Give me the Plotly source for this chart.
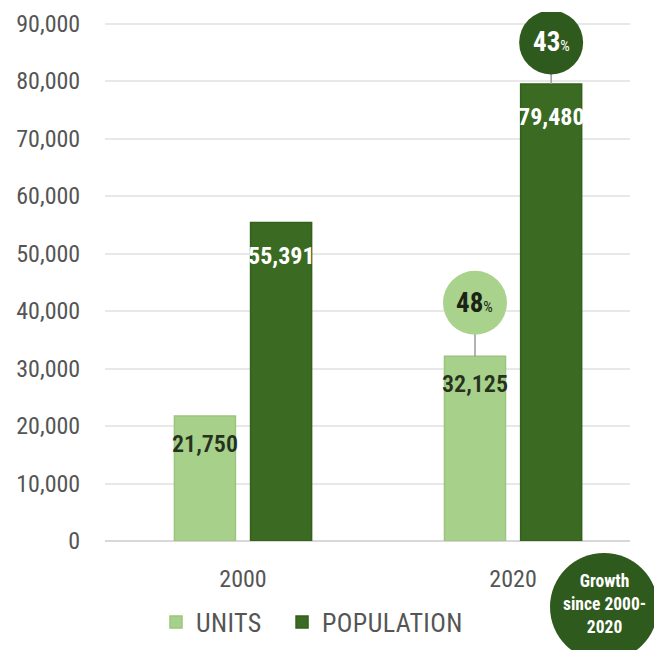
import plotly.graph_objects as go

years = ["2000", "2020"]
units = [21750, 32125]
population = [55391, 79480]
growth_units = "48"
growth_population = "43"
y_ticks = [0, 10000, 20000, 30000, 40000, 50000, 60000, 70000, 80000, 90000]
y_tick_labels = ["0", "10,000", "20,000", "30,000", "40,000", "50,000",
                 "60,000", "70,000", "80,000", "90,000"]

FONT = "Roboto Condensed, DejaVu Sans Condensed, sans-serif"
LIGHT = "#a7d18b"
DARK = "#3b6a22"
CIRCLE_DARK = "#2f5a1d"
GREY = "#555555"

BAR_W = 0.226
GAP = 0.056
off_u = -(BAR_W + GAP / 2)
off_p = GAP / 2
cen_u = off_u + BAR_W / 2
cen_p = off_p + BAR_W / 2

fig = go.Figure()
fig.add_trace(go.Bar(
    x=years, y=units, width=BAR_W, offset=off_u, legend="legend",
    name="<span style='letter-spacing:0.4px'>UNITS</span>",
    marker=dict(color=LIGHT, line=dict(color="#9cc47f", width=1.5)),
))
fig.add_trace(go.Bar(
    x=years, y=population, width=BAR_W, offset=off_p, legend="legend2",
    name="<span style='letter-spacing:0.4px'>POPULATION</span>",
    marker=dict(color=DARK, line=dict(color="#33601c", width=1.5)),
))

fmt = lambda v: f"{v:,}"
for i, v in enumerate(units):
    fig.add_annotation(x=i + cen_u, y=v, text=fmt(v), showarrow=False,
                       xanchor="center", yanchor="middle", yshift=-28,
                       font=dict(family=FONT, size=24, color="#26321e", weight=600))
for i, v in enumerate(population):
    fig.add_annotation(x=i + cen_p, y=v, text=fmt(v), showarrow=False,
                       xanchor="center", yanchor="middle", yshift=-33,
                       font=dict(family=FONT, size=24, color="white", weight="bold"))

# growth circles above the 2020 bars
R = 32
for xc, v, gap, txt, fill, tcol in [
    (1 + cen_u, units[1], 21.5, growth_units, "#a9d38d", "#1b2414"),
    (1 + cen_p, population[1], 9.5, growth_population, CIRCLE_DARK, "white"),
]:
    fig.add_shape(type="line", xref="x", yref="y", xsizemode="pixel", ysizemode="pixel",
                  xanchor=xc, yanchor=v, x0=0, x1=0, y0=0, y1=gap + 2,
                  line=dict(color="#9a9a9a", width=1.5))
    fig.add_shape(type="circle", xref="x", yref="y", xsizemode="pixel", ysizemode="pixel",
                  xanchor=xc, yanchor=v, x0=-R, x1=R, y0=gap, y1=gap + 2 * R,
                  fillcolor=fill, line=dict(width=0))
    fig.add_annotation(x=xc, y=v, yshift=gap + R, showarrow=False,
                       xanchor="center", yanchor="middle",
                       text=f"<b>{txt}</b><span style='font-size:15px'>%</span>",
                       font=dict(family=FONT, size=27, color=tcol))

# "Growth since 2000-2020" badge
BX = (604 - 105) / 525
fig.add_shape(type="circle", xref="paper", yref="paper", xsizemode="pixel", ysizemode="pixel",
              xanchor=BX, yanchor=0, x0=-54, x1=54, y0=-12, y1=-120,
              fillcolor=CIRCLE_DARK, line=dict(width=0))
fig.add_annotation(xref="paper", yref="paper", x=BX, y=0, yshift=-63, showarrow=False,
                   xanchor="center", yanchor="middle",
                   text="<b>Growth<br>since 2000-<br>2020</b>", align="center",
                   font=dict(family=FONT, size=17.5, color="white"))

legend_common = dict(orientation="h", xref="container", yref="container",
                     y=0.0436, xanchor="left", yanchor="middle",
                     font=dict(family=FONT, size=26, color=GREY))

fig.update_layout(
    width=654, height=642,
    margin=dict(l=97, r=32, t=4, b=109, autoexpand=False),
    paper_bgcolor="white", plot_bgcolor="white",
    barmode="overlay",
    showlegend=True,
    legend=dict(x=0.2263, **legend_common),
    legend2=dict(x=0.419, **legend_common),
    font=dict(family=FONT, color=GREY),
)
fig.update_xaxes(type="category", range=[-0.511, 1.433], showgrid=False,
                 showline=False, zeroline=False, automargin=False,
                 ticks="outside", ticklen=16, tickcolor="rgba(0,0,0,0)",
                 tickfont=dict(family=FONT, size=24, color=GREY))
fig.update_yaxes(range=[0, 92000], tickvals=y_ticks, ticktext=y_tick_labels,
                 showgrid=True, gridcolor="#e8e8e8", gridwidth=1.5,
                 zeroline=True, zerolinecolor="#d8d8d8", zerolinewidth=1.5,
                 showline=False, automargin=False,
                 ticks="outside", ticklen=19, tickcolor="rgba(0,0,0,0)",
                 tickfont=dict(family=FONT, size=24, color=GREY))

fig.write_html("out.html")
